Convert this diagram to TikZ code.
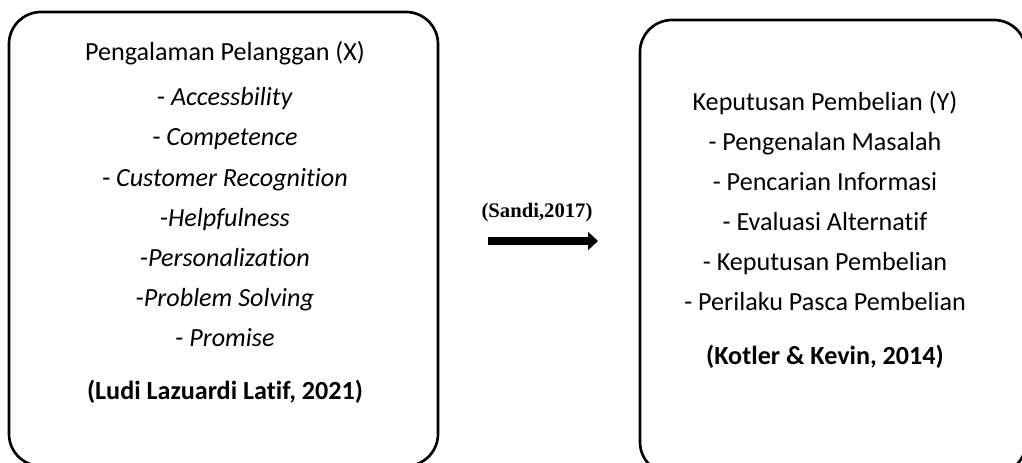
\documentclass[tikz,border=0pt]{standalone}
\usepackage{fontspec}
\setmainfont[Ligatures=NoCommon]{Carlito}
\newfontfamily\timesfont{Liberation Serif}
\usetikzlibrary{arrows.meta}
\tikzset{every picture/.style={line width=0.75pt}}
\tikzset{
  item/.style={inner sep=0.75pt, text height=1.5ex, text depth=.35ex, yshift=-3.6pt, font=\fontsize{19.6}{22}\selectfont},
  src/.style={item, font=\fontsize{19.6}{22}\selectfont\bfseries},
  frame/.style={line width=2pt, rounded corners=24pt}
}

\begin{document}
\begin{tikzpicture}[x=0.75pt,y=0.75pt,yscale=-1,xscale=1]
\useasboundingbox (0,0) rectangle (1022,463);
\clip (0,0) rectangle (1022,463);

%Shape: Rounded Rect [id:left]
\draw [frame] (9,12) rectangle (438,466);
%Shape: Rounded Rect [id:right]
\draw [frame] (640,20) rectangle (1026,474);

% Text Node
\node [item] (x0) at (225,52) {Pengalaman Pelanggan (X)};
\node [item] (x1) at (225,97) {- \textit{Accessbility}};
\node [item] (x2) at (225,137) {- \textit{Competence}};
\node [item] (x3) at (225,178) {- \textit{Customer Recognition}};
\node [item] (x4) at (225,218) {-\textit{Helpfulness}};
\node [item] (x5) at (225,258) {-\textit{Personalization}};
\node [item] (x6) at (225,298) {-\textit{Problem Solving}};
\node [item] (x7) at (225,338) {- \textit{Promise}};
\node [src] (xsrc) at (225,391) {(Ludi Lazuardi Latif, 2021)};

% Text Node
\node [item] (y0) at (825,102) {Keputusan Pembelian (Y)};
\node [item] (y1) at (825,142) {- Pengenalan Masalah};
\node [item] (y2) at (825,182) {- Pencarian Informasi};
\node [item] (y3) at (825,222) {- Evaluasi Alternatif};
\node [item] (y4) at (825,262) {- Keputusan Pembelian};
\node [item] (y5) at (825,302) {- Perilaku Pasca Pembelian};
\node [src] (ysrc) at (825,356) {(Kotler \& Kevin, 2014)};

% Text Node
\node [inner sep=0.75pt, font=\timesfont\fontsize{15.5}{18}\selectfont\bfseries] (cite) at (537,213) {(Sandi,2017)};

%Straight Lines [id:arrow]
\coordinate (a0) at (488,241);
\coordinate (a1) at (598,241);
\draw [line width=6.5pt, -{Triangle[length=7.5pt,width=13.5pt]}] (a0) -- (a1);

\end{tikzpicture}
\end{document}
